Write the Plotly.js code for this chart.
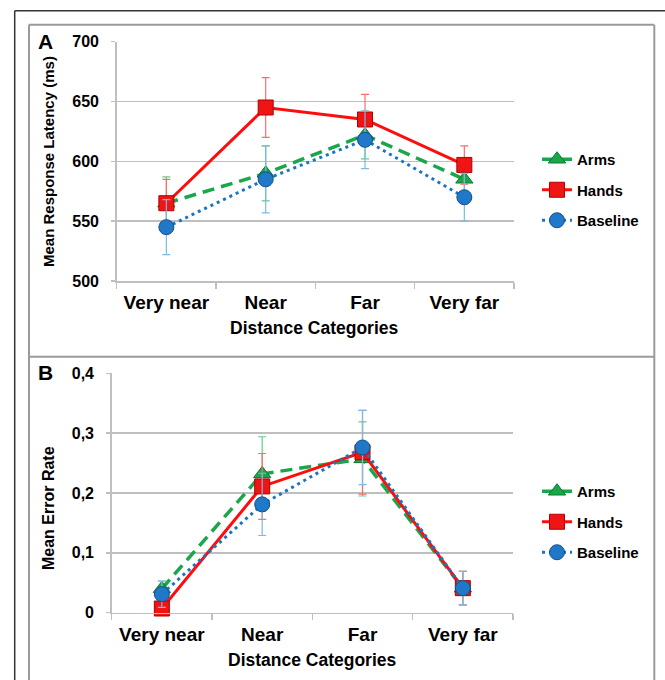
<!DOCTYPE html>
<html>
<head>
<meta charset="utf-8">
<script src="https://cdn.plot.ly/plotly-3.0.1.min.js"></script>
<style>html,body{margin:0;padding:0;background:#fff;}#chart{width:665px;height:680px;}</style>
</head>
<body>
<div id="chart"></div>
<script>
// ---- data ----
var categories = ['Very near', 'Near', 'Far', 'Very far'];
var seriesNames = ['Arms', 'Hands', 'Baseline'];

// Panel A: mean response latency (ms)
var latArms = [565, 590, 622, 585];
var latArmsErr = [22, 23, 20, 16];
var latHands = [565, 645, 635, 597];
var latHandsErr = [20, 25, 21, 16];
var latBase = [545, 585, 618, 570];
var latBaseErr = [23, 28, 24, 20];

// Panel B: mean error rate
var errArms = [0.040, 0.232, 0.257, 0.041];
var errArmsErr = [0.013, 0.062, 0.062, 0.028];
var errHands = [0.007, 0.211, 0.268, 0.041];
var errHandsErr = [0.010, 0.055, 0.070, 0.028];
var errBase = [0.031, 0.181, 0.276, 0.041];
var errBaseErr = [0.022, 0.052, 0.062, 0.028];

var latTicks = [500, 550, 600, 650, 700];
var latTickText = ['500', '550', '600', '650', '700'];
var errTicks = [0, 0.1, 0.2, 0.3, 0.4];
var errTickText = ['0', '0,1', '0,2', '0,3', '0,4'];

var panelLabels = ['A', 'B'];
var xTitle = 'Distance Categories';
var yTitles = ['Mean Response Latency (ms)', 'Mean Error Rate'];

// ---- styles ----
var FONT = '"Liberation Sans", Arial, sans-serif';
var W = 665, H = 680;
function px(x) { return x / W; }
function py(y) { return 1 - y / H; }

var styles = {
  Arms: {line: {color: '#1aa64a', width: 3.5, dash: '12px,7px'},
         marker: {symbol: 'triangle-up', size: 15, color: '#1aa64a', line: {color: '#0d7a33', width: 1}},
         err: '#66cc88'},
  Hands: {line: {color: '#ff0d0d', width: 3, dash: 'solid'},
          marker: {symbol: 'square', size: 15, color: '#f01515', line: {color: '#b00000', width: 1}},
          err: '#ff6b6b'},
  Baseline: {line: {color: '#1a73c4', width: 3, dash: '3px,4px'},
             marker: {symbol: 'circle', size: 15, color: '#1f78c8', line: {color: '#15508a', width: 1}},
             err: '#7db9e2'}
};

function mk(name, yvals, evals, xa, ya, legendId) {
  var s = styles[name];
  return {
    type: 'scatter', mode: 'lines+markers', name: name,
    x: categories, y: yvals, xaxis: xa, yaxis: ya,
    legend: legendId, legendgroup: name + legendId,
    line: s.line, marker: s.marker,
    error_y: {type: 'data', array: evals, visible: true, color: s.err, thickness: 1.2, width: 4},
    cliponaxis: false
  };
}

var data = [
  mk('Arms', latArms, latArmsErr, 'x', 'y', 'legend'),
  mk('Hands', latHands, latHandsErr, 'x', 'y', 'legend'),
  mk('Baseline', latBase, latBaseErr, 'x', 'y', 'legend'),
  mk('Arms', errArms, errArmsErr, 'x2', 'y2', 'legend2'),
  mk('Hands', errHands, errHandsErr, 'x2', 'y2', 'legend2'),
  mk('Baseline', errBase, errBaseErr, 'x2', 'y2', 'legend2')
];

var GRID = '#bfbfbf';
function xax(domain, anchor) {
  return {
    type: 'category', domain: domain, anchor: anchor, range: [-0.5, 3.5],
    tickson: 'boundaries', ticks: 'outside', ticklen: 6, tickwidth: 1.5, tickcolor: GRID,
    showline: true, linecolor: GRID, linewidth: 1.5, showgrid: false, zeroline: false,
    tickfont: {family: FONT, size: 19, color: '#000', weight: 'bold'},
    ticklabelstandoff: 4,
    fixedrange: true
  };
}
function yax(domain, anchor, range, tv, tt) {
  return {
    domain: domain, anchor: anchor, range: range, tickvals: tv, ticktext: tt,
    ticks: 'outside', ticklen: 4, tickwidth: 1.5, tickcolor: GRID,
    showline: true, linecolor: GRID, linewidth: 1.5,
    showgrid: true, gridcolor: GRID, gridwidth: 1.5, zeroline: false,
    tickfont: {family: FONT, size: 16, color: '#000', weight: 'bold'},
    ticklabelstandoff: 9,
    fixedrange: true
  };
}

function textAnn(text, x, y, size, angle) {
  return {text: text, xref: 'paper', yref: 'paper', x: px(x), y: py(y), showarrow: false,
          xanchor: 'center', yanchor: 'middle', textangle: angle || 0,
          font: {family: FONT, size: size, color: '#000', weight: 'bold'}};
}

var legendFont = {family: FONT, size: 15, color: '#000', weight: 'bold'};

var layout = {
  width: W, height: H,
  margin: {l: 0, r: 0, t: 0, b: 0},
  paper_bgcolor: '#fff', plot_bgcolor: 'rgba(0,0,0,0)',
  font: {family: FONT, color: '#000'},
  showlegend: true,
  xaxis: xax([px(116.7), px(514)], 'y'),
  yaxis: yax([py(281), py(41.7)], 'x', [500, 700], latTicks, latTickText),
  xaxis2: xax([px(111.7), px(513)], 'y2'),
  yaxis2: yax([py(612.7), py(373.3)], 'x2', [0, 0.4], errTicks, errTickText),
  legend: {x: px(537), xanchor: 'left', y: py(190), yanchor: 'middle', bgcolor: 'rgba(0,0,0,0)',
           font: legendFont, tracegroupgap: 8, traceorder: 'grouped'},
  legend2: {x: px(537), xanchor: 'left', y: py(522), yanchor: 'middle', bgcolor: 'rgba(0,0,0,0)',
            font: legendFont, tracegroupgap: 8, traceorder: 'grouped'},
  shapes: [
    // outer frame
    {type: 'line', xref: 'paper', yref: 'paper', x0: px(14.7), x1: px(14.7), y0: py(10.7), y1: py(690), line: {color: '#333', width: 1.5}},
    {type: 'line', xref: 'paper', yref: 'paper', x0: px(14.7), x1: px(670), y0: py(10.7), y1: py(10.7), line: {color: '#333', width: 1.5}},
    // inner panels
    {type: 'line', xref: 'paper', yref: 'paper', x0: px(29), x1: px(29), y0: py(24.7), y1: py(690), line: {color: '#9a9a9a', width: 2}},
    {type: 'line', xref: 'paper', yref: 'paper', x0: px(29), x1: px(654.3), y0: py(24.7), y1: py(24.7), line: {color: '#9a9a9a', width: 2}},
    {type: 'line', xref: 'paper', yref: 'paper', x0: px(654.3), x1: px(654.3), y0: py(24.7), y1: py(690), line: {color: '#9a9a9a', width: 2}},
    {type: 'line', xref: 'paper', yref: 'paper', x0: px(29), x1: px(654.3), y0: py(356.7), y1: py(356.7), line: {color: '#9a9a9a', width: 2}}
  ],
  annotations: [
    textAnn(panelLabels[0], 45, 41, 21),
    textAnn(panelLabels[1], 45, 372.5, 21),
    textAnn(yTitles[0], 48, 162, 15, -90),
    textAnn(yTitles[1], 48, 508, 16, -90),
    textAnn(xTitle, 314, 328, 17.5),
    textAnn(xTitle, 312, 660, 17.5)
  ]
};

Plotly.newPlot('chart', data, layout, {displayModeBar: false, staticPlot: true});
</script>
</body>
</html>
